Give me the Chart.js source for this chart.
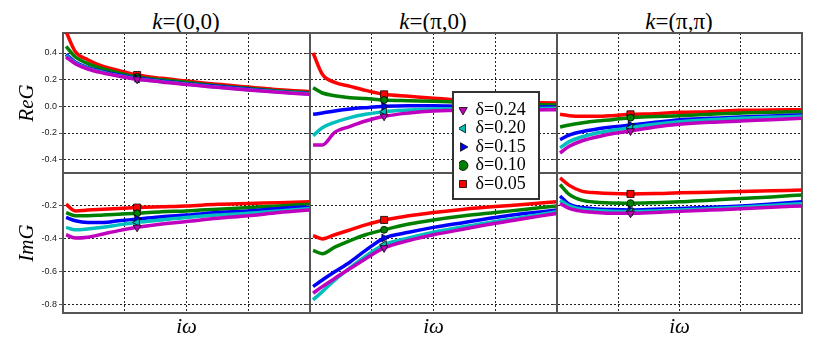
<!DOCTYPE html>
<html>
<head>
<meta charset="utf-8">
<title>G(k, iw)</title>
<script src="https://cdn.jsdelivr.net/npm/chart.js@4.4.1/dist/chart.umd.min.js"></script>
<style>
  body { margin: 0; background: #fff; }
  #wrap { position: relative; width: 822px; height: 342px; overflow: hidden; background: #fff; }
  #wrap canvas { position: absolute; }
  .ktitle { position: absolute; top: 9px; width: 160px; text-align: center; font-family: 'Liberation Serif', serif; font-size: 23px; line-height: 26px; color: #000; }
  #legend-box { position: absolute; left: 452px; top: 91px; width: 84px; height: 105px; border: 2px solid #333; background: #fff; z-index: 5; }
  #legend-box canvas { left: 0; top: 0; }
</style>
</head>
<body>
<div id="wrap">
  <div class="ktitle" style="left:106px"><i>k</i>=(0,0)</div>
  <div class="ktitle" style="left:353px"><i>k</i>=(π,0)</div>
  <div class="ktitle" style="left:599px"><i>k</i>=(π,π)</div>
  <div id="legend-box"><canvas id="legend" width="84" height="105"></canvas></div>
</div>
<script>
// Matsubara axis (arbitrary units, 0..4 across a panel)
const omega = [0.05, 0.2, 0.4, 0.65, 0.9, 1.2, 1.6, 2, 2.5, 3, 3.5, 4];
const deltas = ['0.24', '0.20', '0.15', '0.10', '0.05'];

const reTicks = [-0.4, -0.2, 0.0, 0.2, 0.4];
const imTicks = [-0.8, -0.6, -0.4, -0.2];
const wGrid = [1, 2, 3];
const reRange = [-0.5, 0.55];
const imRange = [-0.85, 0.0];

// each panel: one row per delta, same order as deltas
const reG_00 = [
  [0.37, 0.32, 0.28, 0.25, 0.228, 0.203, 0.183, 0.163, 0.143, 0.123, 0.105, 0.09],
  [0.38, 0.325, 0.285, 0.255, 0.23, 0.205, 0.185, 0.165, 0.145, 0.125, 0.108, 0.093],
  [0.39, 0.33, 0.29, 0.26, 0.235, 0.21, 0.19, 0.17, 0.15, 0.13, 0.11, 0.095],
  [0.45, 0.37, 0.32, 0.28, 0.25, 0.22, 0.20, 0.18, 0.155, 0.135, 0.115, 0.10],
  [0.56, 0.41, 0.35, 0.30, 0.27, 0.235, 0.21, 0.19, 0.165, 0.145, 0.125, 0.11]
];
const reG_p0 = [
  [-0.29, -0.29, -0.195, -0.15, -0.11, -0.075, -0.05, -0.035, -0.03, -0.03, -0.028, -0.025],
  [-0.22, -0.16, -0.12, -0.085, -0.06, -0.04, -0.028, -0.02, -0.018, -0.017, -0.016, -0.015],
  [-0.06, -0.05, -0.035, -0.02, -0.01, 0.0, 0.005, 0.005, 0.0, 0.0, -0.005, -0.005],
  [0.14, 0.10, 0.08, 0.065, 0.058, 0.047, 0.042, 0.038, 0.03, 0.02, 0.015, 0.01],
  [0.40, 0.24, 0.18, 0.15, 0.12, 0.09, 0.075, 0.06, 0.045, 0.035, 0.03, 0.025]
];
const reG_pp = [
  [-0.35, -0.3, -0.26, -0.23, -0.205, -0.185, -0.155, -0.135, -0.12, -0.11, -0.1, -0.09],
  [-0.31, -0.265, -0.23, -0.2, -0.18, -0.16, -0.135, -0.115, -0.1, -0.09, -0.082, -0.075],
  [-0.25, -0.215, -0.19, -0.17, -0.155, -0.14, -0.12, -0.1, -0.09, -0.08, -0.072, -0.065],
  [-0.155, -0.14, -0.125, -0.11, -0.1, -0.085, -0.077, -0.07, -0.06, -0.05, -0.045, -0.04],
  [-0.06, -0.07, -0.075, -0.075, -0.07, -0.06, -0.055, -0.045, -0.04, -0.03, -0.028, -0.025]
];
const imG_00 = [
  [-0.375, -0.395, -0.39, -0.37, -0.35, -0.33, -0.31, -0.295, -0.275, -0.26, -0.24, -0.225],
  [-0.33, -0.345, -0.34, -0.33, -0.315, -0.30, -0.285, -0.27, -0.255, -0.245, -0.23, -0.215],
  [-0.27, -0.29, -0.3, -0.3, -0.29, -0.28, -0.265, -0.255, -0.24, -0.23, -0.215, -0.205],
  [-0.24, -0.26, -0.26, -0.255, -0.25, -0.245, -0.235, -0.23, -0.22, -0.21, -0.2, -0.19],
  [-0.19, -0.23, -0.225, -0.22, -0.215, -0.21, -0.205, -0.2, -0.19, -0.185, -0.18, -0.175]
];
const imG_p0 = [
  [-0.73, -0.69, -0.64, -0.58, -0.52, -0.455, -0.41, -0.375, -0.34, -0.305, -0.275, -0.245],
  [-0.77, -0.72, -0.65, -0.575, -0.505, -0.435, -0.395, -0.36, -0.325, -0.295, -0.265, -0.235],
  [-0.69, -0.65, -0.6, -0.54, -0.47, -0.395, -0.36, -0.33, -0.3, -0.27, -0.245, -0.225],
  [-0.47, -0.49, -0.45, -0.41, -0.375, -0.345, -0.31, -0.285, -0.26, -0.24, -0.22, -0.2],
  [-0.38, -0.40, -0.375, -0.345, -0.315, -0.285, -0.26, -0.24, -0.22, -0.204, -0.19, -0.174]
];
const imG_pp = [
  [-0.185, -0.215, -0.232, -0.24, -0.245, -0.245, -0.24, -0.233, -0.225, -0.217, -0.208, -0.2],
  [-0.165, -0.2, -0.22, -0.228, -0.232, -0.234, -0.23, -0.224, -0.217, -0.208, -0.197, -0.186],
  [-0.14, -0.19, -0.21, -0.218, -0.222, -0.224, -0.22, -0.215, -0.208, -0.2, -0.188, -0.175],
  [-0.07, -0.13, -0.165, -0.178, -0.182, -0.183, -0.18, -0.175, -0.165, -0.155, -0.145, -0.133],
  [-0.03, -0.075, -0.11, -0.12, -0.125, -0.127, -0.125, -0.12, -0.117, -0.113, -0.108, -0.103]
];

const colors = ['#bf00bf', '#00bfbf', '#0000ff', '#008000', '#ff0000'];
const markers = [
  { style: 'triangle', rot: 180, r: 4.5 },
  { style: 'triangle', rot: -90, r: 4.5 },
  { style: 'triangle', rot: 90, r: 4.5 },
  { style: 'circle', rot: 0, r: 3.5 },
  { style: 'rect', rot: 0, r: 5 }
];
const markerIdx = 5;

const colLeft = [63, 310, 557], colRight = [310, 557, 802];
const rowTop = [33, 173], rowBottom = [173, 313];
const serif = "'Liberation Serif', serif";
const frame = { color: '#555', width: 2 };

const wrap = document.getElementById('wrap');

const makeDatasets = rows => rows.map((vals, i) => ({
  label: 'δ=' + deltas[i],
  data: omega.map((w, j) => ({ x: w, y: vals[j] })),
  xAxisID: 'x',
  yAxisID: 'y',
  borderColor: colors[i],
  backgroundColor: colors[i],
  borderWidth: 3.5,
  cubicInterpolationMode: 'monotone',
  fill: false,
  pointStyle: markers[i].style,
  pointRotation: markers[i].rot,
  pointRadius: ctx => ctx.dataIndex === markerIdx ? markers[i].r : 0,
  pointHoverRadius: ctx => ctx.dataIndex === markerIdx ? markers[i].r : 0,
  pointBackgroundColor: colors[i],
  pointBorderColor: '#000',
  pointBorderWidth: 0.8
}));

function panel(rows, r, c) {
  const yAxisW = c === 0 ? 63 : 6;
  const xAxisH = r === 1 ? 29 : 2;
  const canvas = document.createElement('canvas');
  canvas.width = yAxisW + (colRight[c] - colLeft[c]) + 2;
  canvas.height = 2 + (rowBottom[r] - rowTop[r]) + xAxisH;
  canvas.style.left = (colLeft[c] - yAxisW) + 'px';
  canvas.style.top = (rowTop[r] - 2) + 'px';
  wrap.appendChild(canvas);

  const yTicks = r === 0 ? reTicks : imTicks;
  const yRange = r === 0 ? reRange : imRange;

  new Chart(canvas, {
    type: 'line',
    data: { datasets: makeDatasets(rows) },
    options: {
      responsive: false,
      animation: false,
      devicePixelRatio: 1,
      layout: { padding: { top: 2, right: 2, bottom: 0, left: 0 } },
      plugins: { legend: { display: false }, tooltip: { enabled: false } },
      scales: {
        x: {
          type: 'linear', min: 0, max: 4,
          afterBuildTicks: s => { s.ticks = wGrid.map(v => ({ value: v })); },
          afterFit: s => { s.height = xAxisH; s.paddingLeft = 0; s.paddingRight = 0; },
          ticks: { display: false },
          grid: { color: '#222', lineWidth: 1, drawTicks: false },
          border: { ...frame, dash: [2, 2] },
          title: {
            display: r === 1, text: 'iω', color: '#000',
            font: { family: serif, style: 'italic', size: 21 },
            padding: { top: 0, bottom: 2 }
          }
        },
        y: {
          type: 'linear', min: yRange[0], max: yRange[1],
          afterBuildTicks: s => { s.ticks = yTicks.map(v => ({ value: v })); },
          afterFit: s => { s.width = yAxisW; s.paddingTop = 0; s.paddingBottom = 0; },
          ticks: {
            display: c === 0, color: '#222', padding: 2,
            font: { family: "'Liberation Sans', sans-serif", size: 9 },
            callback: v => v.toFixed(1)
          },
          grid: { color: '#222', lineWidth: 1, tickLength: 4, tickColor: '#555', tickWidth: 1 },
          border: { ...frame, dash: [2, 2] },
          title: {
            display: c === 0, text: r === 0 ? 'ReG' : 'ImG', color: '#000',
            font: { family: serif, style: 'italic', size: 21 },
            padding: { top: 15, bottom: 0 }
          }
        },
        xTop: {
          axis: 'x', position: 'top', type: 'linear', min: 0, max: 4,
          afterFit: s => { s.height = 0; },
          ticks: { display: false },
          grid: { drawOnChartArea: false, drawTicks: false },
          border: frame
        },
        yRight: {
          axis: 'y', position: 'right', type: 'linear', min: yRange[0], max: yRange[1],
          afterFit: s => { s.width = 0; },
          ticks: { display: false },
          grid: { drawOnChartArea: false, drawTicks: false },
          border: frame
        }
      }
    }
  });
}

panel(reG_00, 0, 0);
panel(reG_p0, 0, 1);
panel(reG_pp, 0, 2);
panel(imG_00, 1, 0);
panel(imG_p0, 1, 1);
panel(imG_pp, 1, 2);

// legend box
new Chart(document.getElementById('legend'), {
  type: 'line',
  data: {
    datasets: deltas.map((d, i) => ({
      label: 'δ=' + d,
      data: [],
      borderColor: colors[i],
      backgroundColor: colors[i],
      pointStyle: markers[i].style,
      pointRotation: markers[i].rot,
      pointBackgroundColor: colors[i],
      pointBorderColor: '#000',
      pointBorderWidth: 0.8
    }))
  },
  options: {
    responsive: false,
    animation: false,
    devicePixelRatio: 1,
    layout: { padding: { top: 7.5, left: 5, right: 0, bottom: 0 } },
    scales: { x: { display: false }, y: { display: false } },
    plugins: {
      tooltip: { enabled: false },
      legend: {
        position: 'top', align: 'start', maxHeight: 100,
        labels: {
          usePointStyle: true, boxWidth: 7, boxHeight: 7, padding: 0.5,
          color: '#000', font: { family: serif, size: 18 }
        }
      }
    }
  }
});
</script>
</body>
</html>
